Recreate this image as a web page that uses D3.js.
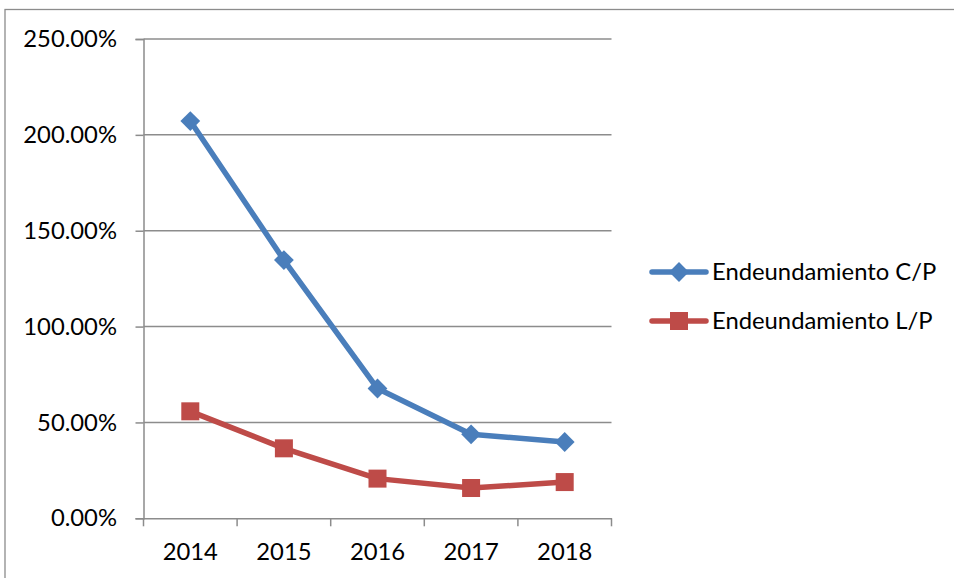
<!DOCTYPE html>
<html><head><meta charset="utf-8">
<script src="https://cdn.jsdelivr.net/npm/d3@7"></script>
<style>body{margin:0;background:#fff}svg{display:block}</style>
</head><body>
<script>
const categories = ["2014","2015","2016","2017","2018"];
const seriesNames = ["Endeundamiento C/P","Endeundamiento L/P"];
const cpValues = [2.072, 1.347, 0.677, 0.438, 0.398];
const lpValues = [0.558, 0.365, 0.207, 0.158, 0.189];
const yTicks = [0, 0.5, 1.0, 1.5, 2.0, 2.5];
const colors = ["#4A7EBB", "#BE4B48"];

const W = 954, H = 578;
const svg = d3.select("body").append("svg").attr("width", W).attr("height", H);
const font = "Lato, 'Open Sans', sans-serif";
const fs = 23.8;
const X0 = 143.5, X1 = 611.5;

// outer border
svg.append("rect").attr("x",5).attr("y",9.5).attr("width",1000).attr("height",1000)
  .attr("fill","none").attr("stroke","#8c8c8c").attr("stroke-width",1.3);

const x = d3.scaleBand().domain(categories).range([X0, X1]);
const y = d3.scaleLinear().domain([0, 2.5]).range([518.3, 39]);

// gridlines
svg.append("g").selectAll("line").data(yTicks.filter(d=>d>0)).join("line")
  .attr("x1",X0).attr("x2",X1).attr("y1",d=>y(d)).attr("y2",d=>y(d))
  .attr("stroke","#8c8c8c").attr("stroke-width",1.5);

// y axis
const ya = svg.append("g").attr("transform",`translate(${X0},0)`)
  .call(d3.axisLeft(y).tickValues(yTicks).tickSize(8).tickPadding(18.5)
    .tickFormat(d=>d3.format(".2f")(d*100)+"%"));
ya.select(".domain").attr("stroke","#8c8c8c").attr("stroke-width",1.5);
ya.selectAll(".tick line").attr("stroke","#8c8c8c").attr("stroke-width",1.5);
ya.selectAll("text").attr("font-family",font).attr("font-size",fs).attr("fill","#000");

// x axis
const xa = svg.append("g").attr("transform","translate(0,518.3)")
  .call(d3.axisBottom(x).tickSize(0).tickPadding(25));
xa.select(".domain").attr("stroke","#8c8c8c").attr("stroke-width",1.5);
xa.selectAll("text").attr("font-family",font).attr("font-size",fs).attr("fill","#000");
const edges = categories.map(c=>x(c)).concat([X1]);
xa.selectAll("line.edge").data(edges).join("line").attr("class","edge")
  .attr("x1",d=>d).attr("x2",d=>d).attr("y1",0).attr("y2",8)
  .attr("stroke","#8c8c8c").attr("stroke-width",1.5);

const cx = c => x(c) + x.bandwidth()/2;
const line = d3.line().x((d,i)=>cx(categories[i])).y(d=>y(d));

function drawSeries(vals, color, kind){
  svg.append("path").datum(vals).attr("d",line).attr("fill","none")
    .attr("stroke",color).attr("stroke-width",5.5).attr("stroke-linejoin","round");
  if(kind==="diamond"){
    svg.append("g").selectAll("rect").data(vals).join("rect")
      .attr("x",-7).attr("y",-7).attr("width",14).attr("height",14)
      .attr("transform",(d,i)=>`translate(${cx(categories[i])},${y(d)}) rotate(45)`)
      .attr("fill",color);
  } else {
    svg.append("g").selectAll("rect").data(vals).join("rect")
      .attr("x",(d,i)=>cx(categories[i])-9).attr("y",d=>y(d)-9)
      .attr("width",18).attr("height",18).attr("fill",color);
  }
}
drawSeries(cpValues, colors[0], "diamond");
drawSeries(lpValues, colors[1], "square");

// legend
const lg = svg.append("g");
const ly = [272, 321];
seriesNames.forEach((n,i)=>{
  lg.append("line").attr("x1",652).attr("x2",706).attr("y1",ly[i]).attr("y2",ly[i])
    .attr("stroke",colors[i]).attr("stroke-width",5.5).attr("stroke-linecap","round");
  if(i===0){
    lg.append("rect").attr("x",-7).attr("y",-7).attr("width",14).attr("height",14)
      .attr("transform",`translate(679,${ly[i]}) rotate(45)`).attr("fill",colors[i]);
  } else {
    lg.append("rect").attr("x",670).attr("y",ly[i]-9).attr("width",18).attr("height",18).attr("fill",colors[i]);
  }
  lg.append("text").attr("x",712).attr("y",ly[i]).attr("dy","0.35em")
    .attr("font-family",font).attr("font-size",fs).attr("fill","#000").text(n);
});
</script>
</body></html>
